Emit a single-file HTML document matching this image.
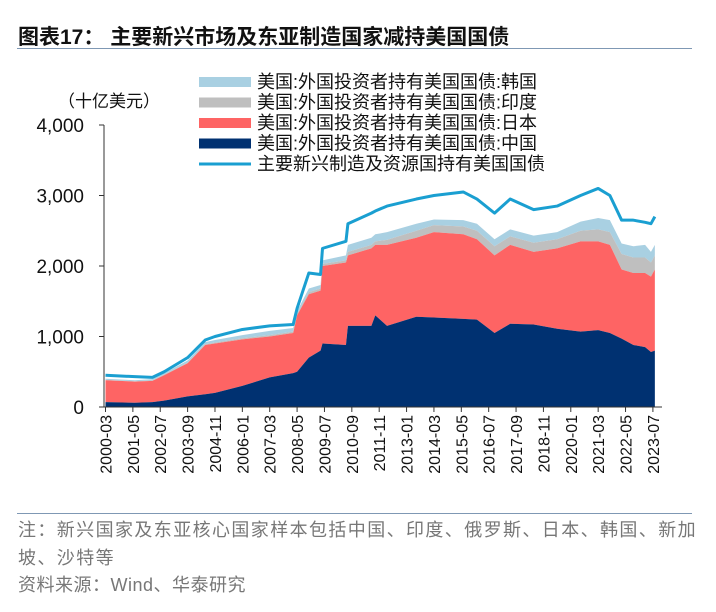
<!DOCTYPE html>
<html><head><meta charset="utf-8"><style>
body{margin:0;background:#fff;width:716px;height:612px;overflow:hidden;font-family:"Liberation Sans","Noto Sans CJK SC",sans-serif}
.t{position:absolute;white-space:nowrap}
</style></head><body>
<div class="t" style="left:18px;top:21px;font-size:21px;font-weight:bold;color:#111">图表17：&nbsp;主要新兴市场及东亚制造国家减持美国国债</div>
<div style="position:absolute;left:17px;top:48px;width:675px;height:1px;background:#7f98b4"></div>
<svg id="c" width="716" height="612" style="position:absolute;left:0;top:0" font-family="Liberation Sans, Noto Sans CJK SC, sans-serif"></svg>
<div style="position:absolute;left:17px;top:513px;width:675px;height:1px;background:#7f98b4"></div>
<div class="t" style="left:18px;top:516px;font-size:18px;letter-spacing:1.4px;color:#777;line-height:28px">注：新兴国家及东亚核心国家样本包括中国、印度、俄罗斯、日本、韩国、新加<br>坡、沙特等</div>
<div class="t" style="left:18px;top:571px;font-size:18px;letter-spacing:0.5px;color:#777">资料来源：Wind、华泰研究</div>
<script>
const dates=["2000-03","2001-06","2002-03","2002-09","2003-09","2004-06","2004-11","2006-01","2007-03","2008-03","2008-05","2008-11","2009-05","2009-06","2010-06","2010-07","2011-07","2011-09","2012-03","2013-06","2014-03","2015-06","2016-01","2016-10","2017-06","2018-06","2019-06","2020-06","2021-03","2021-09","2022-03","2022-09","2023-03","2023-06","2023-08"];
const china=[70,60,70,90,150,180,200,300,420,480,500,700,800,900,880,1150,1150,1300,1150,1280,1270,1250,1240,1050,1180,1170,1110,1070,1090,1050,970,880,850,780,800];
const japan=[310,300,300,360,470,700,700,660,580,570,800,900,850,1100,1170,1000,1100,1000,1150,1120,1210,1200,1140,1100,1120,1030,1140,1280,1260,1250,980,1020,1050,1070,1150];
const india=[5,5,8,10,10,10,15,15,20,20,20,30,30,30,30,50,50,50,70,100,100,110,120,130,120,130,130,150,170,180,220,220,220,200,200];
const korea=[15,15,17,20,30,30,35,45,60,50,40,50,50,50,70,100,100,100,110,100,80,90,100,100,100,100,100,130,160,170,150,160,180,150,150];
const total=[450,430,420,500,700,950,1000,1100,1150,1170,1400,1900,1880,2250,2350,2600,2750,2780,2850,2950,3000,3050,2950,2750,2950,2800,2850,3000,3100,3000,2650,2650,2620,2600,2700];
const yTicks=[0,1000,2000,3000,4000];
const yLabels=["0","1,000","2,000","3,000","4,000"];
const xLabels=["2000-03","2001-05","2002-07","2003-09","2004-11","2006-01","2007-03","2008-05","2009-07","2010-09","2011-11","2013-01","2014-03","2015-05","2016-07","2017-09","2018-11","2020-01","2021-03","2022-05","2023-07"];
const NS="http://www.w3.org/2000/svg",svg=document.getElementById('c');
const mi=s=>{const[a,b]=s.split('-').map(Number);return (a-2000)*12+b-3;};
const X=s=>105.5+mi(s)*1.955, Y=v=>407-v*0.0705;
function el(t,a){const e=document.createElementNS(NS,t);for(const k in a)e.setAttribute(k,a[k]);svg.appendChild(e);return e;}
const layers=[[china,"#003171","china-area"],[japan,"#fe6464","japan-area"],[india,"#bfbfbf","india-area"],[korea,"#a9d0e2","korea-area"]];
let base=dates.map(()=>0);
const areas=[];
layers.forEach(([arr,col,name])=>{
  const top=base.map((b,i)=>b+arr[i]);
  let d="M"+dates.map((s,i)=>X(s)+","+Y(top[i])).join("L");
  for(let i=dates.length-1;i>=0;i--)d+="L"+X(dates[i])+","+Y(base[i]);
  areas.push([d+"Z",col,name]);base=top;});
areas.reverse().forEach(([d,col,name])=>{const p=el('path',{d:d,fill:col});

});
const ln=el('polyline',{points:dates.map((s,i)=>X(s)+","+Y(total[i])).join(" "),fill:"none",stroke:"#1a9fd1","stroke-width":3,"stroke-linejoin":"round"});


const ya=el('line',{x1:104,y1:Y(4000),x2:104,y2:407,stroke:"#333"});


yTicks.forEach((v,i)=>{el('line',{x1:99,x2:104,y1:Y(v),y2:Y(v),stroke:"#333"});
const t=el('text',{x:84,y:Y(v)+7,"text-anchor":"end","font-size":19,fill:"#111"});t.textContent=yLabels[i];

});
const xa=el('line',{x1:104,y1:407,x2:662,y2:407,stroke:"#333"});


xLabels.forEach(s=>{const x=X(s);el('line',{x1:x,x2:x,y1:407,y2:412,stroke:"#333"});
const t=el('text',{transform:`translate(${x+6},415) rotate(-90)`,"text-anchor":"end","font-size":16,fill:"#111"});t.textContent=s;

});
const u=el('text',{x:58,y:107,"font-size":17,fill:"#111"});u.textContent="（十亿美元）";


const leg=[["#a9d0e2","美国:外国投资者持有美国国债:韩国"],["#bfbfbf","美国:外国投资者持有美国国债:印度"],["#fe6464","美国:外国投资者持有美国国债:日本"],["#003171","美国:外国投资者持有美国国债:中国"],["#1a9fd1","主要新兴制造及资源国持有美国国债"]];
leg.forEach(([c,s],i)=>{const y=82+i*20.5;
if(i<4)el('rect',{x:199,y:y-5,width:52,height:10,fill:c});else el('line',{x1:199,x2:251,y1:y,y2:y,stroke:c,"stroke-width":3});
const t=el('text',{x:257,y:y+6,"font-size":18,fill:"#111"});t.textContent=s;

});
</script>
</body></html>
